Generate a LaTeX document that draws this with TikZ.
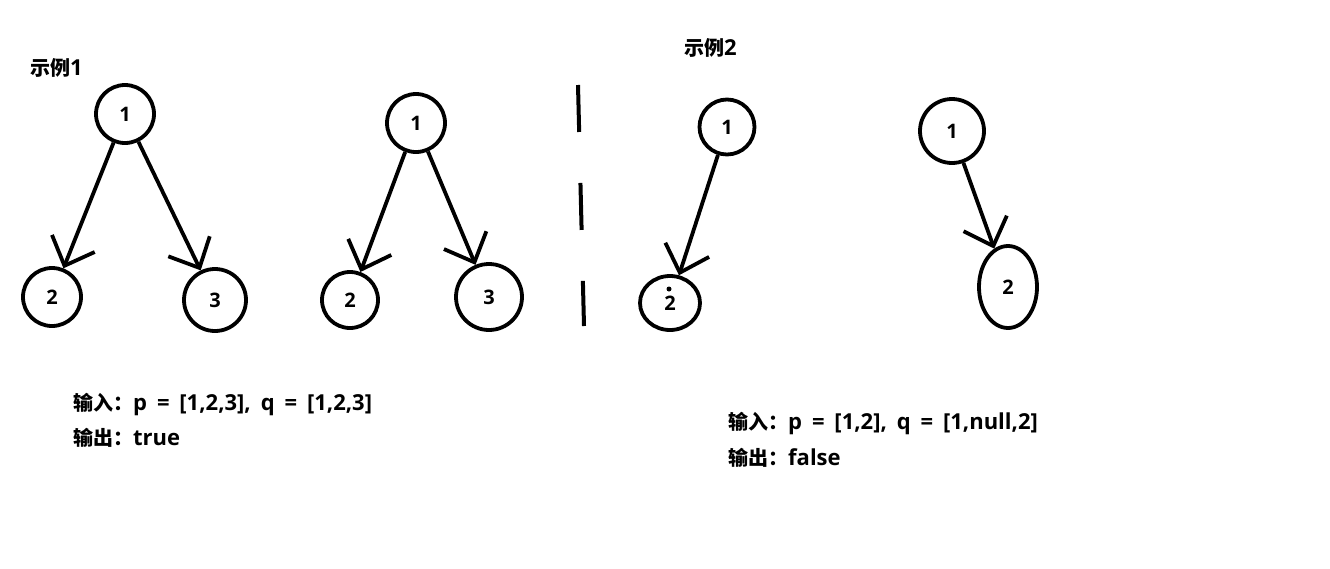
\documentclass[tikz,border=0pt]{standalone}
\usepackage{fontspec}
\setmainfont{Open Sans}
\newfontfamily\cjk{Noto Sans CJK SC}
\usetikzlibrary{arrows.meta,shapes.geometric}

\newcommand{\capfont}{\bfseries\fontsize{22}{25}\selectfont\spaceskip 0.45em\relax}
\newcommand{\zh}[1]{{\cjk\fontsize{20}{22}\selectfont #1}}

\begin{document}
\begin{tikzpicture}[x=1pt,y=-1pt,
  tnode/.style={circle,draw,line width=3.8pt,minimum size=58pt,inner sep=0pt,font=\bfseries\fontsize{20}{22}\selectfont},
  tedge/.style={line width=3.8pt,-{Straight Barb[length=24pt,width=46pt,line width=3.8pt]}},
  caption/.style={anchor=west,inner sep=0pt,font=\capfont}]
\useasboundingbox (0,0) rectangle (1330,568);

% example 1
\node[caption] (title1) at (30,68) {\zh{示例}1};
\node[tnode] (a1) at (125,114) {1};
\node[tnode] (a2) at (52,297) {2};
\node[tnode,minimum size=62pt] (a3) at (215,300) {3};
\draw[tedge] (a1) -- (a2);
\draw[tedge] (a1) -- (a3);

\node[tnode] (b1) at (416,123) {1};
\node[tnode,minimum size=56pt] (b2) at (350,300) {2};
\node[tnode,minimum size=66pt] (b3) at (489,297) {3};
\draw[tedge] (b1) -- (b2);
\draw[tedge] (b1) -- (b3);

\node[caption] (in1) at (73,404) {\zh{输入：}p = [1,2,3], q = [1,2,3]};
\node[caption] (out1) at (73,438) {\zh{输出：}true};

% separator
\draw[line width=4pt,dash pattern=on 47pt off 51pt] (578,85) -- (584,326);

% example 2
\node[caption] (title2) at (684,48) {\zh{示例}2};
\node[tnode,minimum size=55pt] (c1) at (727,127) {1};
\node[tnode,ellipse,minimum width=60pt,minimum height=54pt] (c2) at (670,303) {2};
\fill (669,289) circle (2.5pt);
\draw[tedge] (c1) -- (c2);

\node[tnode,minimum size=64pt] (d1) at (952,131) {1};
\node[tnode,ellipse,minimum width=58pt,minimum height=82pt] (d2) at (1008,287) {2};
\draw[tedge] (d1) -- (d2);

\node[caption] (in2) at (728,423) {\zh{输入：}p = [1,2], q = [1,null,2]};
\node[caption] (out2) at (728,458) {\zh{输出：}false};
\end{tikzpicture}
\end{document}
